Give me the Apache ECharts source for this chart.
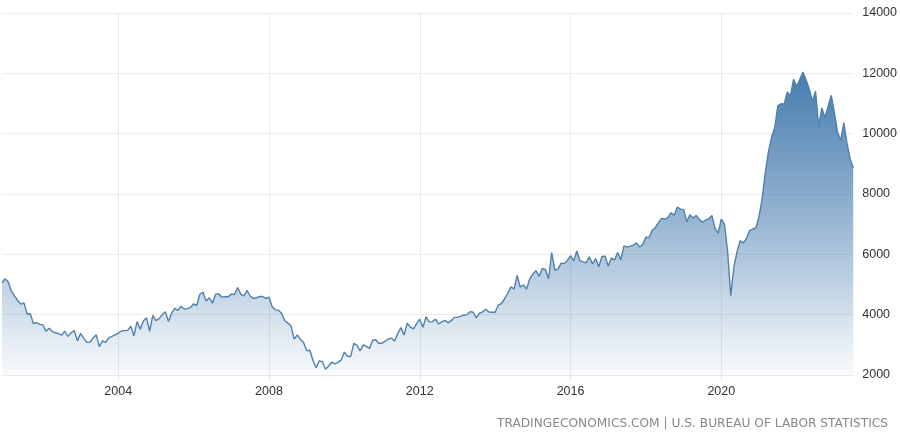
<!DOCTYPE html>
<html>
<head>
<meta charset="utf-8">
<script src="https://cdn.jsdelivr.net/npm/echarts@6/dist/echarts.min.js"></script>
<style>
html,body{margin:0;padding:0;background:#fff;}
#chart{width:900px;height:439px;}
</style>
</head>
<body>
<div id="chart"></div>
<script>
// Job openings (thousands), monthly, Dec 2000 .. Jul 2023
var startYear = 2000, startMonth = 12;
var values2000to2004 = [5060,5190,5080,4780,4620,4470,4350,4390,4020,4030,3700,3740,3680,3660,3450,3550,3440,3400,3370,3320,3450,3280,3400,3470,3130,3380,3220,3080,3080,3230,3330,2940,3130,3080,3230,3280,3330,3390,3460,3470,3480,3620,3300,3770,3520,3790,3900,3450];
var values2004to2008 = [3980,3800,3870,4000,4100,3770,4050,4210,4140,4280,4190,4200,4240,4360,4300,4680,4740,4450,4560,4380,4680,4690,4580,4600,4590,4680,4670,4900,4680,4620,4810,4620,4540,4560,4600,4600,4540,4580,4260,4160,4150,4050,3800,3720,3630,3190,3330,3180];
var values2008to2012 = [3080,2800,2820,2480,2240,2470,2440,2190,2300,2430,2370,2420,2500,2760,2620,2610,3050,2980,2800,3000,2950,2880,3150,3170,3040,3060,3120,3190,3220,3130,3380,3570,3320,3720,3590,3530,3700,3850,3580,3930,3760,3770,3850,3690,3760,3810,3730,3800];
var values2012to2016 = [3910,3910,3950,3980,4000,4100,4080,3890,4050,4090,4180,4090,4080,4080,4320,4370,4530,4710,4920,4850,5300,4910,4990,4850,5180,5350,5460,5270,5530,5500,5190,6060,5480,5510,5710,5690,5800,5960,5780,6110,5790,5750,5720,5920,5680,5860,5590,5930];
var values2016to2020 = [5940,5610,5880,5810,6060,5820,6280,6240,6270,6300,6380,6240,6330,6570,6560,6800,6890,7050,7190,7170,7220,7380,7300,7570,7500,7490,7080,7310,7200,7290,7160,7060,7140,7170,7290,6860,6700];
var values2020to2023 = [7170,7000,6100,4630,5580,6080,6450,6380,6530,6780,6840,6880,7250,7850,8700,9400,9880,10200,10930,10990,10980,11380,11250,11800,11560,11800,12040,11780,11480,11070,11410,10240,10850,10530,10900,11270,10700,10050,9780,10360,9690,9170,8860];
var values = values2000to2004.concat(values2004to2008, values2008to2012, values2012to2016, values2016to2020, values2020to2023);
var yearTicks = ['2004','2008','2012','2016','2020'];
var yTicks = [2000,4000,6000,8000,10000,12000,14000];
var footerText = 'TRADINGECONOMICS.COM | U.S. BUREAU OF LABOR STATISTICS';

var categories = [];
for (var k = 0; k < values.length; k++) {
  var m = startMonth - 1 + k;
  var y = startYear + Math.floor(m / 12);
  var mm = (m % 12) + 1;
  categories.push(y + '-' + (mm < 10 ? '0' + mm : mm));
}
function isYearTick(idx) {
  var c = categories[idx];
  return c.slice(5) === '01' && yearTicks.indexOf(c.slice(0, 4)) >= 0;
}

var chart = echarts.init(document.getElementById('chart'), null, {renderer: 'canvas'});
chart.setOption({
  animation: false,
  backgroundColor: '#ffffff',
  grid: {left: 2, right: 46, top: 13, bottom: 64, containLabel: false},
  xAxis: {
    type: 'category',
    data: categories,
    boundaryGap: false,
    axisLine: {show: true, lineStyle: {color: '#e6e6e6'}},
    axisTick: {show: true, length: 6, interval: function (i) { return isYearTick(i); }, lineStyle: {color: '#e6e6e6'}},
    axisLabel: {
      interval: function (i) { return isYearTick(i); },
      formatter: function (v) { return v.slice(0, 4); },
      color: '#333333', fontSize: 12.5, fontFamily: 'Liberation Sans, Arial, sans-serif', margin: 10
    },
    splitLine: {show: true, interval: function (i) { return isYearTick(i); }, lineStyle: {color: '#ebebeb', width: 1}}
  },
  yAxis: {
    type: 'value',
    position: 'right',
    min: yTicks[0], max: yTicks[yTicks.length - 1], interval: 2000,
    axisLine: {show: false},
    axisTick: {show: false},
    axisLabel: {
      color: '#333333', fontSize: 12.5, fontFamily: 'Liberation Sans, Arial, sans-serif', margin: 9,
      formatter: function (v) { return String(v); }
    },
    splitLine: {show: true, lineStyle: {color: '#ebebeb', width: 1}}
  },
  series: [{
    type: 'line',
    data: values,
    symbol: 'none',
    smooth: false,
    lineStyle: {color: '#4f80ae', width: 1.4},
    areaStyle: {
      opacity: 1,
      color: new echarts.graphic.LinearGradient(0, 0, 0, 1, [
        {offset: 0, color: 'rgba(70,124,175,1)'},
        {offset: 0.5, color: 'rgba(70,124,175,0.55)'},
        {offset: 1, color: 'rgba(70,124,175,0.03)'}
      ])
    }
  }],
  graphic: [{
    type: 'text',
    right: 12, top: 418,
    style: {text: footerText, fill: '#888888', fontSize: 12.2, fontFamily: 'DejaVu Sans, Verdana, sans-serif'}
  }]
});
</script>
</body>
</html>
